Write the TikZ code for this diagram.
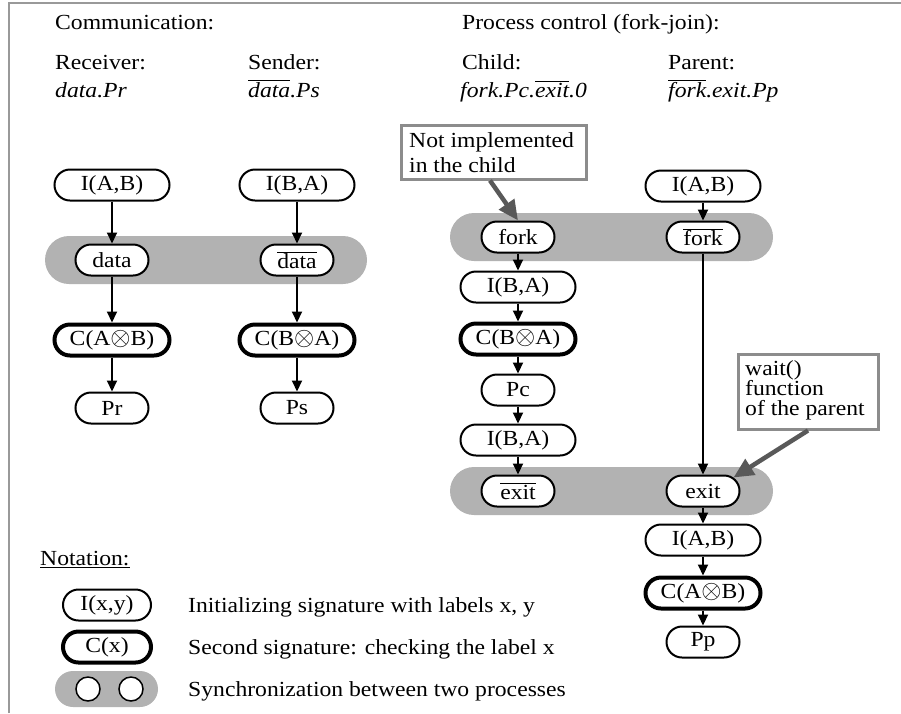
\documentclass[tikz,border=0pt]{standalone}
\usepackage{graphicx}
\usepackage{fontspec}
\setmainfont{Liberation Serif}[FakeStretch=1.1]
\usetikzlibrary{arrows.meta}
\newcommand\ovl[1]{$\overline{\hbox{#1}}$}
\newcommand\otm{\scalebox{1.25}{$\otimes$}}
\begin{document}
\begin{tikzpicture}[x=1pt,y=-1pt,font=\fontsize{21.5}{25}\selectfont,
  sig/.style={draw, line width=2pt, fill=white, rounded corners=15.5pt, minimum height=31pt, inner sep=0pt},
  wide/.style={sig, minimum width=115pt},
  narrow/.style={sig, minimum width=73pt},
  thickb/.style={line width=4pt},
  arr/.style={line width=2pt, -{Triangle[length=11pt,width=10pt]}},
  band/.style={fill=black!30, rounded corners=24pt},
  callout/.style={draw=black!45, line width=2.5pt, fill=white, inner sep=0pt},
  callarrow/.style={draw=black!65, line width=4.5pt, -{Triangle[length=20pt,width=18pt]}, fill=black!65},
  txt/.style={anchor=base west, inner sep=0pt},
  frame/.style={draw=black!40, line width=2pt},
  dot/.style={circle, draw, line width=1.5pt, fill=white, minimum size=24pt, inner sep=0pt}]
\useasboundingbox (0,0) rectangle (901,713);
\draw[frame] (9,713) -- (9,3) -- (901,3);

% headers
\node[txt] (h1) at (55,29) {Communication:};
\node[txt] (h2) at (462,29) {Process control (fork-join):};
\node[txt] (h3) at (55,69) {Receiver:};
\node[txt] (h4) at (248,69) {Sender:};
\node[txt] (h5) at (462,69) {Child:};
\node[txt] (h6) at (668,69) {Parent:};
\node[txt] (h7) at (55,97) {\itshape data.Pr};
\node[txt] (h8) at (248,97) {\itshape \ovl{data}.Ps};
\node[txt] (h9) at (460,97) {\itshape fork.Pc.\ovl{exit}.0};
\node[txt] (h10) at (668,97) {\itshape \ovl{fork}.exit.Pp};

% bands
\fill[band] (45,236) rectangle (367,284);
\fill[band] (450,213) rectangle (773,261);
\fill[band] (450,467) rectangle (773,515);

% left diagram
\node[wide] (ia) at (112,185) {I(A,B)};
\node[wide] (ib) at (297,185) {I(B,A)};
\node[narrow] (d1) at (112,260) {data};
\node[narrow] (d2) at (297,260) {\ovl{data}};
\node[wide, thickb] (ca) at (112,340) {C(A\otm B)};
\node[wide, thickb] (cb) at (297,340) {C(B\otm A)};
\node[narrow] (pr) at (112,408) {Pr};
\node[narrow] (ps) at (297,408) {Ps};
\draw[arr] (ia) -- (d1);
\draw[arr] (d1) -- (ca);
\draw[arr] (ca) -- (pr);
\draw[arr] (ib) -- (d2);
\draw[arr] (d2) -- (cb);
\draw[arr] (cb) -- (ps);

% right diagram
\node[wide] (ib2) at (703,186) {I(A,B)};
\node[narrow] (fk) at (518,237) {fork};
\node[narrow] (fkb) at (703,237) {\ovl{fork}};
\node[wide] (cb1) at (518,287) {I(B,A)};
\node[wide, thickb] (cc) at (518,339) {C(B\otm A)};
\node[narrow] (pc) at (518,390) {Pc};
\node[wide] (cb2) at (518,440) {I(B,A)};
\node[narrow] (exb) at (518,491) {\ovl{exit}};
\node[narrow] (ex) at (703,491) {exit};
\node[wide] (pa) at (703,540) {I(A,B)};
\node[wide, thickb] (pcc) at (703,593) {C(A\otm B)};
\node[narrow] (pp) at (703,642) {Pp};
\draw[arr] (ib2) -- (fkb);
\draw[arr] (fkb) -- (ex);
\draw[arr] (ex) -- (pa);
\draw[arr] (pa) -- (pcc);
\draw[arr] (pcc) -- (pp);
\draw[arr] (fk) -- (cb1);
\draw[arr] (cb1) -- (cc);
\draw[arr] (cc) -- (pc);
\draw[arr] (pc) -- (cb2);
\draw[arr] (cb2) -- (exb);

% callouts
\node[callout, anchor=north west, minimum width=185pt, minimum height=54pt] (co1) at (400,124) {};
\node[txt] (t1) at (409,147) {Not implemented};
\node[txt] (t2) at (409,172) {in the child};
\node[callout, anchor=north west, minimum width=140pt, minimum height=75pt] (co2) at (737,353) {};
\node[txt] (t3) at (745,375) {wait()};
\node[txt] (t4) at (745,395) {function};
\node[txt] (t5) at (745,415) {of the parent};
\draw[callarrow] ([xshift=90pt]co1.south west) -- (fk.north);
\draw[callarrow] ([xshift=71pt]co2.south west) -- ([shift={(-7,3)}]ex.north east);

% notation
\node[txt] (nt) at (40,565) {\underline{Notation:}};
\node[sig, minimum width=88pt] (lgi) at (107,605) {I(x,y)};
\node[sig, thickb, minimum width=88pt] (lgc) at (107,647) {C(x)};
\fill[band, rounded corners=18pt] (55,671) rectangle (158,707);
\node[dot] (lo1) at (88,689) {};
\node[dot] (lo2) at (131,689) {};
\node[txt] (l1) at (188,612) {Initializing signature with labels x, y};
\node[txt] (l2) at (188,654) {Second signature: checking the label x};
\node[txt] (l3) at (188,696) {Synchronization between two processes};
\end{tikzpicture}
\end{document}
